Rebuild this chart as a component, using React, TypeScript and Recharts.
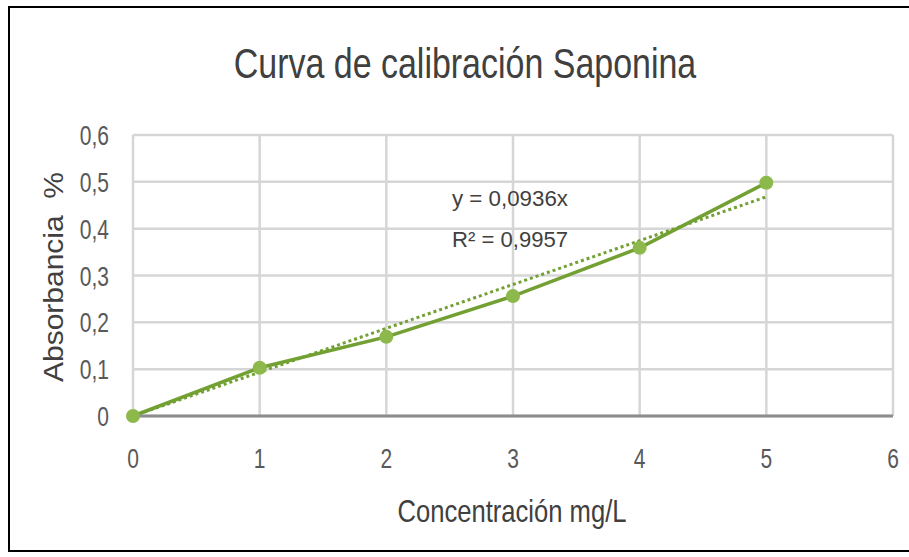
import React from 'react';
import { ComposedChart, Line, XAxis, YAxis, CartesianGrid } from 'recharts';

// concentraciones (mg/L) y absorbancias
const concentrations = [0, 1, 2, 3, 4, 5];
const absorbances = [0, 0.103, 0.169, 0.256, 0.359, 0.498];

// linea de tendencia de Excel: y = 0,0936x, dibujada de x=0 a x=5
const trendX = [0, 5];
const trendY = [0, 0.468];

const xTicks = [0, 1, 2, 3, 4, 5, 6];
const yTicks = [0, 0.1, 0.2, 0.3, 0.4, 0.5, 0.6];

const chartTitle = 'Curva de calibración Saponina';
const xTitle = 'Concentración mg/L';
const yTitle = 'Absorbancia  %';
const equation = 'y = 0,0936x';
const rSquared = 'R² = 0,9957';

const measured = concentrations.map((x, i) => ({ x, y: absorbances[i] }));
const trend = trendX.map((x, i) => ({ x, y: trendY[i] }));

const FONT = "'Liberation Sans', Arial, sans-serif";
const GREEN = '#72a033';
const MARKER = '#8db94c';

const fmt = (v: number) => String(v).replace('.', ',');

function XTick({ x, y, payload }: any) {
  return (
    <text
      transform={`translate(${x},${y + 52}) scale(0.75,1)`}
      textAnchor="middle"
      fontSize={28}
      fontFamily={FONT}
      fill="#595959"
    >
      {fmt(payload.value)}
    </text>
  );
}

function YTick({ x, y, payload }: any) {
  return (
    <text
      transform={`translate(${x},${y + 10}) scale(0.75,1)`}
      textAnchor="end"
      fontSize={28}
      fontFamily={FONT}
      fill="#595959"
    >
      {fmt(payload.value)}
    </text>
  );
}

export default function App() {
  return (
    <div
      style={{
        position: 'absolute',
        left: 0,
        top: 0,
        width: 909,
        height: 557,
        overflow: 'hidden',
        background: '#fff',
      }}
    >
      <style>{'body{margin:0;overflow:hidden}'}</style>
      <div
        style={{
          position: 'absolute',
          left: 8,
          top: 6,
          width: 1000,
          height: 542,
          border: '2px solid #000',
        }}
      />
      <ComposedChart
        width={909}
        height={557}
        margin={{ top: 135, right: 16, bottom: 81, left: 0 }}
        style={{ position: 'absolute', left: 0, top: 0 }}
      >
        <CartesianGrid stroke="#d6d6d6" strokeWidth={2.5} />
        <XAxis
          type="number"
          dataKey="x"
          domain={[0, 6]}
          ticks={xTicks}
          interval={0}
          height={60}
          tickSize={0}
          tickMargin={0}
          tick={<XTick />}
          axisLine={{ stroke: '#8c8c8c', strokeWidth: 3 }}
          tickLine={false}
        />
        <YAxis
          type="number"
          dataKey="y"
          domain={[0, 0.6]}
          ticks={yTicks}
          interval={0}
          width={133}
          tickSize={0}
          tickMargin={24}
          tick={<YTick />}
          axisLine={false}
          tickLine={false}
        />
        <Line
          data={trend}
          dataKey="y"
          type="linear"
          stroke={GREEN}
          strokeWidth={3}
          strokeDasharray="3 3"
          dot={false}
          activeDot={false}
          isAnimationActive={false}
        />
        <Line
          data={measured}
          dataKey="y"
          type="linear"
          stroke={GREEN}
          strokeWidth={3.5}
          dot={{ r: 7, fill: MARKER, stroke: MARKER, strokeWidth: 0, clipDot: false }}
          activeDot={false}
          isAnimationActive={false}
        />
      </ComposedChart>
      <svg
        width={909}
        height={557}
        style={{ position: 'absolute', left: 0, top: 0, pointerEvents: 'none' }}
      >
        <text
          transform="translate(465,78) scale(0.79,1)"
          textAnchor="middle"
          fontSize={43}
          fontFamily={FONT}
          fill="#404040"
        >
          {chartTitle}
        </text>
        <text
          transform="translate(512,522) scale(0.8,1)"
          textAnchor="middle"
          fontSize={32}
          fontFamily={FONT}
          fill="#404040"
        >
          {xTitle}
        </text>
        <text
          transform="translate(63,277) rotate(-90) scale(1,0.93)"
          textAnchor="middle"
          fontSize={30}
          fontFamily={FONT}
          fill="#404040"
          style={{ whiteSpace: 'pre' }}
        >
          {yTitle}
        </text>
        <text
          x={452}
          y={206}
          fontSize={22}
          fontFamily={FONT}
          fill="#404040"
          textLength={116}
          lengthAdjust="spacingAndGlyphs"
        >
          {equation}
        </text>
        <text
          x={452}
          y={247}
          fontSize={22}
          fontFamily={FONT}
          fill="#404040"
          textLength={116}
          lengthAdjust="spacingAndGlyphs"
        >
          {rSquared}
        </text>
      </svg>
    </div>
  );
}
